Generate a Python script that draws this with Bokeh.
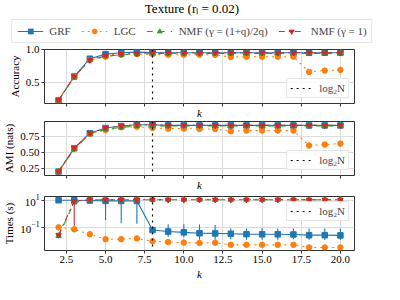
from bokeh.plotting import figure
from bokeh.models import (Range1d, FixedTicker, PrintfTickFormatter, Legend, LegendItem,
                          Span, Div)
from bokeh.layouts import column
from bokeh.embed import file_html
from bokeh.resources import INLINE

# ---------------- data ----------------
k = list(range(2, 21))
log2_N = 8

acc_grf = [0.23, 0.59, 0.86, 0.93, 0.95, 0.96, 0.955, 0.95, 0.95, 0.95, 0.95, 0.95, 0.95, 0.95, 0.95, 0.95, 0.95, 0.95, 0.95]
acc_lgc = [0.23, 0.59, 0.84, 0.89, 0.92, 0.93, 0.93, 0.92, 0.92, 0.92, 0.92, 0.885, 0.89, 0.89, 0.89, 0.89, 0.66, 0.68, 0.69]
acc_nmf_q = [0.23, 0.59, 0.84, 0.90, 0.92, 0.93, 0.94, 0.94, 0.94, 0.94, 0.94, 0.94, 0.94, 0.94, 0.94, 0.94, 0.94, 0.94, 0.94]
acc_nmf_1 = [0.23, 0.59, 0.84, 0.91, 0.93, 0.94, 0.95, 0.95, 0.95, 0.95, 0.95, 0.95, 0.95, 0.95, 0.95, 0.95, 0.95, 0.95, 0.95]

ami_grf = [0.21, 0.57, 0.80, 0.88, 0.91, 0.93, 0.93, 0.92, 0.92, 0.92, 0.92, 0.92, 0.92, 0.92, 0.92, 0.92, 0.92, 0.92, 0.92]
ami_lgc = [0.21, 0.56, 0.79, 0.85, 0.89, 0.90, 0.88, 0.87, 0.87, 0.865, 0.865, 0.83, 0.84, 0.84, 0.84, 0.84, 0.61, 0.625, 0.64]
ami_nmf_q = [0.21, 0.56, 0.79, 0.86, 0.89, 0.91, 0.91, 0.91, 0.91, 0.91, 0.91, 0.91, 0.91, 0.91, 0.91, 0.91, 0.91, 0.91, 0.91]
ami_nmf_1 = [0.21, 0.57, 0.80, 0.88, 0.91, 0.93, 0.93, 0.92, 0.92, 0.92, 0.92, 0.92, 0.92, 0.92, 0.92, 0.92, 0.92, 0.92, 0.92]

time_grf = [10, 10, 9.5, 9, 9, 9, 0.062, 0.048, 0.042, 0.036, 0.035, 0.033, 0.031, 0.030, 0.030, 0.029, 0.026, 0.026, 0.025]
time_grf_lo = [10, 10, 9.0, 0.33, 0.2, 0.18, 0.05, 0.02, 0.018, 0.012, 0.012, 0.013, 0.012, 0.012, 0.012, 0.013, 0.012, 0.012, 0.012]
time_grf_hi = [10, 10, 10, 10, 10, 10, 0.08, 0.17, 0.17, 0.16, 0.15, 0.08, 0.08, 0.09, 0.08, 0.08, 0.08, 0.08, 0.08]
time_lgc = [0.10, 0.071, 0.030, 0.013, 0.013, 0.015, 0.0093, 0.008, 0.0073, 0.0069, 0.0072, 0.005, 0.005, 0.005, 0.005, 0.005, 0.0032, 0.0032, 0.0032]
time_nmf_q = [0.023, 7.0, 11, 11, 11, 11, 11, 11, 11, 11, 11, 11, 11, 11, 11, 11, 11, 11, 11]
time_nmf_1 = [0.027, 8.5, 11, 11, 11, 11, 11, 11, 11, 11, 11, 11, 11, 11, 11, 11, 11, 11, 11]
time_nmf_1_lo = [0.027, 0.13, 11, 11, 11, 11, 11, 11, 11, 11, 11, 11, 11, 11, 11, 11, 11, 11, 11]
time_nmf_1_hi = [0.027, 10, 11, 11, 11, 11, 11, 11, 11, 11, 11, 11, 11, 11, 11, 11, 11, 11, 11]

k_ticks = [2.5, 5.0, 7.5, 10.0, 12.5, 15.0, 17.5, 20.0]
acc_ticks = [0.5, 1.0]
ami_ticks = [0.25, 0.50, 0.75]
time_ticks = [0.1, 10]

labels = ["GRF", "LGC", "NMF (γ = (1+q)/2q)", "NMF (γ = 1)"]
title_text = "Texture (rₗ = 0.02)"

# ---------------- style ----------------
SERIF = "Liberation Serif"
C = ["#1f77b4", "#ff7f0e", "#2ca02c", "#d62728"]
DASH = ["solid", "dotted", "dashed", "dashdot"]
MARK = ["square", "circle", "triangle", "inverted_triangle"]
MS = 5.5
FW = 310
FH = 54
LB = 42
RB = 32


def style(p, ylabel, show_ticklabels):
    p.outline_line_color = "#333333"
    p.outline_line_width = 1
    p.grid.grid_line_color = "#dcdcdc"
    p.grid.grid_line_width = 1
    for ax in (p.xaxis[0], p.yaxis[0]):
        ax.axis_line_color = None
        ax.major_tick_in = 0
        ax.major_tick_out = 3
        ax.minor_tick_line_color = None
        ax.major_tick_line_color = "#333333"
        ax.major_label_text_font = SERIF
        ax.major_label_text_font_size = "11px"
        ax.major_label_text_color = "black"
        ax.axis_label_text_font = SERIF
        ax.axis_label_text_font_size = "11px"
        ax.axis_label_text_font_style = "normal"
        ax.axis_label_text_color = "black"
        ax.major_label_standoff = 2
        ax.axis_label_standoff = 2
    p.yaxis.axis_label = ylabel
    p.xaxis.axis_label = "k"
    p.xaxis.axis_label_text_font_style = "italic"
    p.xaxis.ticker = FixedTicker(ticks=k_ticks)
    p.xaxis.formatter = PrintfTickFormatter(format="%.1f")
    if not show_ticklabels:
        p.xaxis.major_label_overrides = {t: "" for t in k_ticks}
        p.xaxis.major_label_standoff = 0
        p.xaxis.axis_label_standoff = 0


def add_series(p, ys, lo=None, hi=None):
    for i, y in enumerate(ys):
        if lo is not None and lo[i] is not None:
            p.segment(x0=k, y0=lo[i], x1=k, y1=hi[i], line_color=C[i], line_width=1.1)
        p.line(k, y, line_color=C[i], line_width=1.1, line_dash=DASH[i])
        p.scatter(k, y, marker=MARK[i], size=MS, fill_color=C[i], line_color=C[i])


def add_log2n(p, loc, ymin):
    p.add_layout(Span(location=log2_N, dimension="height", line_color="black",
                      line_dash="dotted", line_width=1.2))
    dummy = p.line([log2_N, log2_N], [ymin / 10, ymin / 20], line_color="black",
                   line_dash="dotted", line_width=1.2)
    lg = Legend(items=[LegendItem(label="log₂N", renderers=[dummy])], location=loc,
                nrows=1, label_text_font=SERIF, label_text_font_size="11px",
                glyph_width=24, glyph_height=12, label_height=12, padding=3,
                margin=5, border_line_color="#cccccc", background_fill_alpha=0.85,
                spacing=0)
    p.add_layout(lg, "center")


# ---------------- title ----------------
title = Div(text=title_text, width=384, height=17, margin=0,
            styles={"font-family": SERIF, "font-size": "13px", "text-align": "center",
                    "line-height": "17px", "width": "384px", "color": "black"})

# ---------------- header legend ----------------
hdr = figure(frame_width=384, frame_height=27, output_backend="svg", toolbar_location=None,
             min_border_left=0, min_border_right=0, min_border_top=0, min_border_bottom=0,
             x_range=Range1d(0, 1), y_range=Range1d(0, 1), align="start")
hdr.axis.visible = False
hdr.grid.visible = False
hdr.outline_line_color = None
items = []
series_for_proxy = [acc_grf, acc_lgc, acc_nmf_q, acc_nmf_1]
for i, lab in enumerate(labels):
    # proxies with real data, outside the header's 0..1 x range, so only the legend shows them
    lr = hdr.line(k, series_for_proxy[i], line_color=C[i], line_width=1.1, line_dash=DASH[i])
    sr = hdr.scatter(k, series_for_proxy[i], marker=MARK[i], size=MS, fill_color=C[i], line_color=C[i])
    items.append(LegendItem(label=lab, renderers=[lr, sr]))
leg = Legend(items=items, orientation="horizontal", location="center", nrows=1,
             label_text_font=SERIF, label_text_font_size="11px",
             glyph_width=26, glyph_height=12, label_standoff=6, spacing=11,
             padding=5, margin=0, border_line_color="#cccccc")
hdr.add_layout(leg, "center")

# ---------------- panel 1: accuracy ----------------
p1 = figure(frame_width=FW, frame_height=FH, output_backend="svg", toolbar_location=None,
            min_border_left=LB, min_border_right=RB, min_border_top=5, min_border_bottom=0,
            x_range=Range1d(1.1, 20.9), y_range=Range1d(0.18, 1.0))
style(p1, "Accuracy", False)
p1.yaxis.ticker = FixedTicker(ticks=acc_ticks)
p1.yaxis.formatter = PrintfTickFormatter(format="%.1f")
add_series(p1, [acc_grf, acc_lgc, acc_nmf_q, acc_nmf_1])
add_log2n(p1, "bottom_right", -1.0)

# ---------------- panel 2: AMI ----------------
p2 = figure(frame_width=FW, frame_height=FH, output_backend="svg", toolbar_location=None,
            min_border_left=LB, min_border_right=RB, min_border_top=0, min_border_bottom=0,
            x_range=p1.x_range, y_range=Range1d(0.15, 0.98))
style(p2, "AMI (nats)", False)
p2.yaxis.ticker = FixedTicker(ticks=ami_ticks)
p2.yaxis.formatter = PrintfTickFormatter(format="%.2f")
add_series(p2, [ami_grf, ami_lgc, ami_nmf_q, ami_nmf_1])
add_log2n(p2, "bottom_right", -1.0)

# ---------------- panel 3: times ----------------
p3 = figure(frame_width=FW, frame_height=FH, output_backend="svg", toolbar_location=None,
            min_border_left=LB, min_border_right=RB, min_border_top=3, min_border_bottom=0,
            x_range=p1.x_range, y_range=Range1d(0.0019, 19), y_axis_type="log")
style(p3, "Times (s)", True)
p3.yaxis.ticker = FixedTicker(ticks=time_ticks)
add_series(p3, [time_grf, time_lgc, time_nmf_q, time_nmf_1],
           lo=[time_grf_lo, None, None, time_nmf_1_lo],
           hi=[time_grf_hi, None, None, time_nmf_1_hi])
add_log2n(p3, "top_right", 0.0019)

layout = column(title, hdr, p1, p2, p3, spacing=0)
open("out.html", "w").write(file_html(layout, INLINE))
